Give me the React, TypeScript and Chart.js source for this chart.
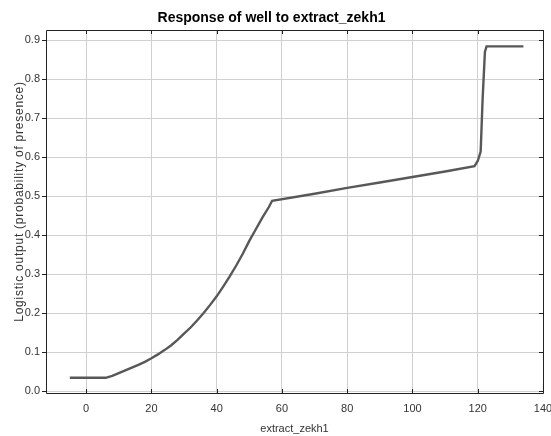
import React, { useEffect, useRef } from "react";
import { Chart, registerables } from "chart.js";

Chart.register(...registerables);

const xValues = [-5, 6, 8, 10, 12, 14, 16, 18, 20, 22, 24, 26, 28, 30, 32, 34, 36, 38, 40, 42, 44, 46, 48, 50, 52, 54, 56, 57, 70, 80, 90, 100, 110, 119, 120, 120.9, 121.5, 122.2, 122.7, 134];
const yValues = [0.034, 0.034, 0.039, 0.046, 0.053, 0.06, 0.067, 0.075, 0.084, 0.094, 0.105, 0.117, 0.131, 0.147, 0.163, 0.181, 0.2, 0.221, 0.243, 0.268, 0.294, 0.322, 0.352, 0.385, 0.415, 0.445, 0.472, 0.488, 0.506, 0.521, 0.535, 0.549, 0.563, 0.577, 0.59, 0.614, 0.75, 0.87, 0.884, 0.884];
const xTicks = [0, 20, 40, 60, 80, 100, 120, 140];
const yTicks = [0, 0.1, 0.2, 0.3, 0.4, 0.5, 0.6, 0.7, 0.8, 0.9];
const titleText = "Response of well to extract_zekh1";
const xTitleText = "extract_zekh1";
const yTitleText = "Logistic output (probability of presence)";

const FONT = "'Liberation Sans', Arial, sans-serif";

const frameTicks = {
  id: "frameTicks",
  afterDraw(chart: any) {
    const { ctx, chartArea } = chart;
    const { left, right, top, bottom } = chartArea;
    const xs = chart.scales.x;
    const ys = chart.scales.y;
    ctx.save();
    ctx.strokeStyle = "#222";
    ctx.lineWidth = 1;
    ctx.beginPath();
    ctx.rect(Math.round(left) + 0.5, Math.round(top) + 0.5, Math.round(right - left), Math.round(bottom - top));
    ctx.stroke();
    ctx.beginPath();
    xTicks.forEach((v) => {
      const px = Math.round(xs.getPixelForValue(v)) + 0.5;
      ctx.moveTo(px, top);
      ctx.lineTo(px, top + 4);
      ctx.moveTo(px, bottom);
      ctx.lineTo(px, bottom - 4);
    });
    yTicks.forEach((v) => {
      const py = Math.round(ys.getPixelForValue(v)) + 0.5;
      ctx.moveTo(right, py);
      ctx.lineTo(right - 4, py);
    });
    ctx.stroke();

    // rotated y-axis title, spaced out as in the reference
    ctx.font = `12px ${FONT}`;
    const base = ctx.measureText(yTitleText).width;
    const spacing = Math.max(0, (240 - base) / (yTitleText.length - 1));
    (ctx as any).letterSpacing = `${spacing.toFixed(2)}px`;
    ctx.fillStyle = "#333";
    ctx.textAlign = "center";
    ctx.textBaseline = "middle";
    ctx.translate(19.5, (top + bottom) / 2 - 10);
    ctx.rotate(-Math.PI / 2);
    ctx.fillText(yTitleText, 0, 0);
    ctx.restore();
  },
};

export default function App() {
  const ref = useRef<HTMLCanvasElement | null>(null);
  useEffect(() => {
    document.body.style.margin = "0";
    const canvas = ref.current;
    if (!canvas) return;
    const chart = new Chart(canvas, {
      type: "line",
      data: {
        datasets: [
          {
            data: xValues.map((x, i) => ({ x, y: yValues[i] })),
            borderColor: "#585858",
            borderWidth: 2.4,
            pointRadius: 0,
            tension: 0,
            fill: false,
          },
        ],
      },
      options: {
        animation: false,
        responsive: false,
        maintainAspectRatio: false,
        layout: { padding: { left: 0, right: 8, top: 0, bottom: 0 } },
        plugins: {
          legend: { display: false },
          tooltip: { enabled: false },
          title: {
            display: true,
            text: titleText,
            color: "#000",
            font: { family: FONT, size: 14, weight: "bold" },
            padding: { top: 10, bottom: 3.2 },
          },
        },
        scales: {
          x: {
            type: "linear",
            min: -12.3,
            max: 140,
            afterBuildTicks: (s: any) => {
              s.ticks = xTicks.map((v) => ({ value: v }));
            },
            afterFit: (s: any) => {
              s.height = 43;
              s.paddingRight = 0;
              s.paddingLeft = 0;
            },
            grid: { color: "#d0d0d0", drawTicks: false },
            border: { display: false },
            ticks: {
              color: "#333",
              font: { family: FONT, size: 11 },
              padding: 9,
              maxRotation: 0,
              callback: (v: any) => String(v),
            },
            title: {
              display: true,
              text: xTitleText,
              color: "#333",
              font: { family: FONT, size: 11 },
              padding: { top: 1, bottom: 0 },
            },
          },
          y: {
            type: "linear",
            min: -0.005,
            max: 0.926,
            afterBuildTicks: (s: any) => {
              s.ticks = yTicks.map((v) => ({ value: v }));
            },
            afterFit: (s: any) => {
              s.width = 46;
              s.paddingTop = 0;
              s.paddingBottom = 0;
            },
            grid: { color: "#d0d0d0", tickLength: 4, tickColor: "#222" },
            border: { display: false },
            ticks: {
              color: "#333",
              font: { family: FONT, size: 11 },
              padding: 2,
              callback: (v: any) => Number(v).toFixed(1),
            },
            title: { display: false },
          },
        },
      },
      plugins: [frameTicks],
    });
    return () => chart.destroy();
  }, []);
  return (
    <div style={{ width: 551, height: 436, background: "#fff" }}>
      <canvas ref={ref} width={551} height={436} style={{ display: "block" }} />
    </div>
  );
}
